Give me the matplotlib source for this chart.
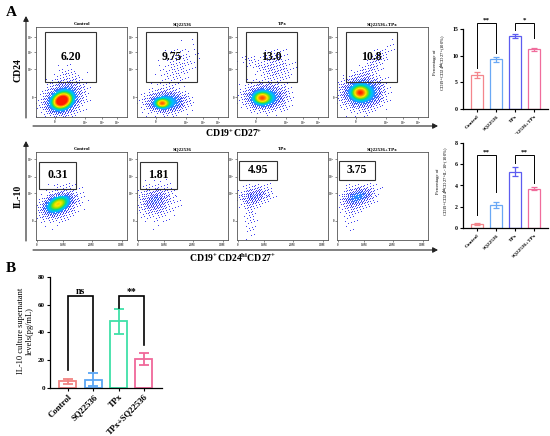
import numpy as np
import matplotlib
matplotlib.use('Agg')
import matplotlib.pyplot as plt
from matplotlib.colors import LinearSegmentedColormap
from matplotlib.patches import Rectangle, FancyArrowPatch

plt.rcParams['font.family'] = ['Liberation Serif', 'DejaVu Serif']
plt.rcParams['font.weight'] = 'bold'
plt.rcParams['mathtext.fontset'] = 'custom'
plt.rcParams['mathtext.rm'] = 'Liberation Serif:bold'
plt.rcParams['mathtext.it'] = 'Liberation Serif:bold:italic'
plt.rcParams['mathtext.bf'] = 'Liberation Serif:bold'

# ---------------- data ----------------
groups = ['Control', 'SQ22536', 'TPx', 'SQ22536+TPx']
top_gate_values = ['6.20', '9.75', '13.0', '10.8']
bottom_gate_values = ['0.31', '1.81', '4.95', '3.75']

# flow-cytometry populations: (cx, cy, sx, sy, rho, weight) in panel fractions
top_control = [(0.28, 0.18, 0.07, 0.06, 0.2, 1.0), (0.30, 0.20, 0.12, 0.10, 0.2, 0.30),
               (0.34, 0.40, 0.10, 0.12, 0.0, 0.05)]
top_sq = [(0.27, 0.15, 0.05, 0.035, 0.0, 0.6), (0.33, 0.17, 0.13, 0.07, 0.0, 0.35),
          (0.45, 0.55, 0.13, 0.15, 0.3, 0.05)]
top_tpx = [(0.27, 0.21, 0.06, 0.045, 0.0, 0.6), (0.31, 0.22, 0.13, 0.08, 0.0, 0.35),
           (0.42, 0.55, 0.12, 0.12, 0.0, 0.07), (0.18, 0.60, 0.12, 0.05, -0.6, 0.04)]
top_combo = [(0.25, 0.27, 0.06, 0.05, 0.0, 0.6), (0.28, 0.27, 0.13, 0.10, 0.0, 0.40),
             (0.42, 0.60, 0.12, 0.12, 0.8, 0.07)]
bot_control = [(0.24, 0.40, 0.08, 0.06, 0.4, 0.6), (0.25, 0.40, 0.13, 0.11, 0.3, 0.16)]
bot_sq = [(0.20, 0.45, 0.09, 0.09, 0.2, 0.14), (0.22, 0.42, 0.15, 0.14, 0.1, 0.05)]
bot_tpx = [(0.20, 0.50, 0.10, 0.07, 0.2, 0.17), (0.15, 0.28, 0.05, 0.15, 0.0, 0.05)]
bot_combo = [(0.24, 0.49, 0.10, 0.07, 0.3, 0.26), (0.15, 0.35, 0.06, 0.15, 0.0, 0.05)]

top_pct_mean = [6.4, 9.3, 13.7, 11.2]
top_pct_err = [0.5, 0.45, 0.4, 0.3]
bot_pct_mean = [0.4, 2.2, 5.3, 3.7]
bot_pct_err = [0.08, 0.28, 0.4, 0.15]

b_groups = ['Control', 'SQ22536', 'TPx', 'TPx+SQ22536']
b_mean = [5.0, 6.0, 48.0, 21.0]
b_err = [1.8, 4.5, 9.0, 4.5]

# significance brackets: (i, j, top, left_end, right_end, text)
top_sig = [(0, 1, 16.2, 7.7, 10.5, '**'), (2, 3, 16.2, 14.8, 13.3, '*')]
bot_sig = [(0, 1, 6.9, 1.2, 3.4, '**'), (2, 3, 6.9, 6.1, 4.2, '**')]
b_sig = [(0, 1, 66.0, 13.0, 12.0, 'ns'), (2, 3, 66.0, 58.0, 31.0, '**')]

# ---------------- layout ----------------
W, H = 550, 436
fig = plt.figure(figsize=(5.5, 4.36), dpi=100)


def px_axes(x0, y0, x1, y1):
    return fig.add_axes([x0 / W, 1 - y1 / H, (x1 - x0) / W, (y1 - y0) / H])


def ftext(x, y, s, **kw):
    fig.text(x / W, 1 - y / H, s, **kw)


cmap = LinearSegmentedColormap.from_list('flow', [
    (0.0, '#4040ee'), (0.25, '#3a78ff'), (0.42, '#00c0ff'), (0.56, '#00d890'),
    (0.68, '#8ee000'), (0.79, '#ffe600'), (0.89, '#ff8a00'), (1.0, '#ff1a00')])


def density_rgba(clusters, nx=92, ny=90):
    xs = (np.arange(nx) + 0.5) / nx
    ys = (np.arange(ny) + 0.5) / ny
    X, Y = np.meshgrid(xs, ys)
    d = np.zeros_like(X)
    for cx, cy, sx, sy, rho, w in clusters:
        u = (X - cx) / sx
        v = (Y - cy) / sy
        q = (u * u - 2 * rho * u * v + v * v) / (1 - rho * rho)
        d += w * np.exp(-0.5 * q)
    ii, jj = np.meshgrid(np.arange(nx), np.arange(ny))
    t = np.mod(52.9829189 * np.mod(0.06711056 * ii + 0.00583715 * jj, 1.0), 1.0)
    show = d > (0.3 * t + 0.004)
    level = np.clip((d - 0.15) / 0.85, 0, 1) ** 0.6
    rgba = cmap(level)
    rgba[..., 3] = show.astype(float)
    return rgba


panel_x = [(36, 127), (137, 228), (237, 328), (337, 428)]


def flow_panel(ax, clusters, gate, value, title, xt, xl, yt, yl):
    ax.imshow(density_rgba(clusters), origin='lower', extent=[0, 1, 0, 1],
              interpolation='nearest', aspect='auto', zorder=1)
    ax.set_xlim(0, 1)
    ax.set_ylim(0, 1)
    gx0, gy0, gx1, gy1 = gate
    ax.add_patch(Rectangle((gx0, gy0), gx1 - gx0, gy1 - gy0, fill=False,
                           edgecolor='#333333', lw=0.8, zorder=3))
    ax.text((gx0 + gx1) / 2, (gy0 + gy1) / 2, value, ha='center', va='center',
            fontsize=8.5, fontweight='bold', zorder=4)
    ax.set_title(title, fontsize=3.6, fontweight='bold', pad=1.5)
    ax.set_xticks(xt)
    ax.set_xticklabels(xl)
    ax.set_yticks(yt)
    ax.set_yticklabels(yl)
    ax.tick_params(labelsize=2.2, length=1.3, width=0.4, pad=0.8, colors='#333333')
    for s in ax.spines.values():
        s.set_color('#555555')
        s.set_linewidth(0.6)


top_clusters = [top_control, top_sq, top_tpx, top_combo]
bot_clusters = [bot_control, bot_sq, bot_tpx, bot_combo]
top_gate = (0.10, 0.39, 0.66, 0.94)
bot_gates = [(0.03, 0.58, 0.44, 0.89), (0.03, 0.58, 0.44, 0.89),
             (0.02, 0.68, 0.44, 0.90), (0.02, 0.68, 0.42, 0.90)]
log_labels = ['0', '10$^{4}$', '10$^{5}$', '10$^{6}$']

for k in range(4):
    x0, x1 = panel_x[k]
    ax = px_axes(x0, 27, x1, 117)
    flow_panel(ax, top_clusters[k], top_gate, top_gate_values[k], groups[k],
               [0.21, 0.54, 0.72, 0.89], log_labels, [0.22, 0.53, 0.72, 0.89], log_labels)
    ax = px_axes(x0, 152, x1, 240)
    flow_panel(ax, bot_clusters[k], bot_gates[k], bottom_gate_values[k], groups[k],
               [0.01, 0.30, 0.61, 0.94], ['0', '1.0M', '2.0M', '3.0M'],
               [0.22, 0.53, 0.72, 0.92], log_labels)


def farrow(x0, y0, x1, y1):
    a = FancyArrowPatch((x0 / W, 1 - y0 / H), (x1 / W, 1 - y1 / H),
                        transform=fig.transFigure, arrowstyle='-|>,head_length=3,head_width=1.6',
                        color='#222222', lw=0.8, shrinkA=0, shrinkB=0)
    fig.add_artist(a)


farrow(26, 118, 26, 16)
farrow(33, 126, 438, 126)
farrow(26, 241, 26, 141)
farrow(33, 250, 438, 250)

ftext(18, 70, 'CD24', rotation=90, ha='center', va='center', fontsize=7)
ftext(18, 196, 'IL-10', rotation=90, ha='center', va='center', fontsize=7)
ftext(234, 133, 'CD19$^{+}$CD27$^{+}$', ha='center', va='center', fontsize=7)
ftext(233, 258, 'CD19$^{+}$CD24$^{\\mathrm{hi}}$CD27$^{+}$', ha='center', va='center', fontsize=7)
ftext(6, 13, 'A', ha='left', va='center', fontsize=11)
ftext(6, 268, 'B', ha='left', va='center', fontsize=11)


def bar_chart(ax, labels, means, errs, colors, ylim, yticks, sig, bar_w, lw, cap,
              fs_tick, fs_xlab, fs_sig, sig_lw, xlim):
    x = np.arange(len(means))
    ax.bar(x, means, width=bar_w, facecolor='white', edgecolor=colors, linewidth=lw, zorder=2)
    for xi, m, e, c in zip(x, means, errs, colors):
        ax.errorbar(xi, m, yerr=e, color=c, capsize=cap, elinewidth=lw, capthick=lw, zorder=3)
    for i, j, top, le, re, txt in sig:
        ax.plot([i, i, j, j], [le, top, top, re], color='black', lw=sig_lw,
                solid_joinstyle='miter', zorder=4)
        ax.text((i + j) / 2, top, txt, ha='center', va='bottom', fontsize=fs_sig,
                fontweight='bold')
    ax.set_xlim(*xlim)
    ax.set_ylim(*ylim)
    ax.set_yticks(yticks)
    ax.set_xticks(x)
    ax.set_xticklabels(labels, rotation=45, ha='right', rotation_mode='anchor',
                       fontsize=fs_xlab)
    ax.tick_params(axis='y', labelsize=fs_tick, width=0.8, length=2.5, pad=1)
    ax.tick_params(axis='x', width=0.8, length=2.5, pad=1)
    ax.spines['top'].set_visible(False)
    ax.spines['right'].set_visible(False)
    ax.spines['left'].set_bounds(yticks[0], yticks[-1])
    for s in ('left', 'bottom'):
        ax.spines[s].set_linewidth(0.9)


top_colors = ['#f4868c', '#6aa8f5', '#5c5cf0', '#f06c9c']
axt = px_axes(463, 15.7, 548, 109)
bar_chart(axt, groups, top_pct_mean, top_pct_err, top_colors, (0, 17.5), [0, 5, 10, 15],
          top_sig, 0.63, 0.9, 2.0, 4.2, 3.8, 5, 0.7, (-0.74, 3.74))
axt.set_ylabel('Percentage of\nCD19$^{+}$CD24$^{\\mathrm{hi}}$CD27$^{+}$(100%)',
               fontsize=3.4, labelpad=2, linespacing=1.3)

axb = px_axes(463, 134.5, 548, 228)
bar_chart(axb, groups, bot_pct_mean, bot_pct_err, top_colors, (0, 8.8), [0, 2, 4, 6, 8],
          bot_sig, 0.63, 0.9, 2.0, 4.2, 3.8, 5, 0.7, (-0.74, 3.74))
axb.set_ylabel('Percentage of\nCD19$^{+}$CD24$^{\\mathrm{hi}}$CD27$^{+}$IL-10$^{+}$(100%)',
               fontsize=3.4, labelpad=2, linespacing=1.3)

b_colors = ['#f28482', '#5aa6f5', '#3fe0a8', '#f0689a']
axB = px_axes(50, 274.2, 162, 388)
bar_chart(axB, b_groups, b_mean, b_err, b_colors, (0, 82), [0, 20, 40, 60, 80],
          b_sig, 0.67, 1.3, 3.5, 5, 6.3, 7, 1.2, (-0.71, 3.72))
axB.set_ylabel('IL-10 culture supernatant\nlevels(pg/mL)', fontsize=6, labelpad=3,
               linespacing=1.2)

fig.savefig('out.png', dpi=100)
